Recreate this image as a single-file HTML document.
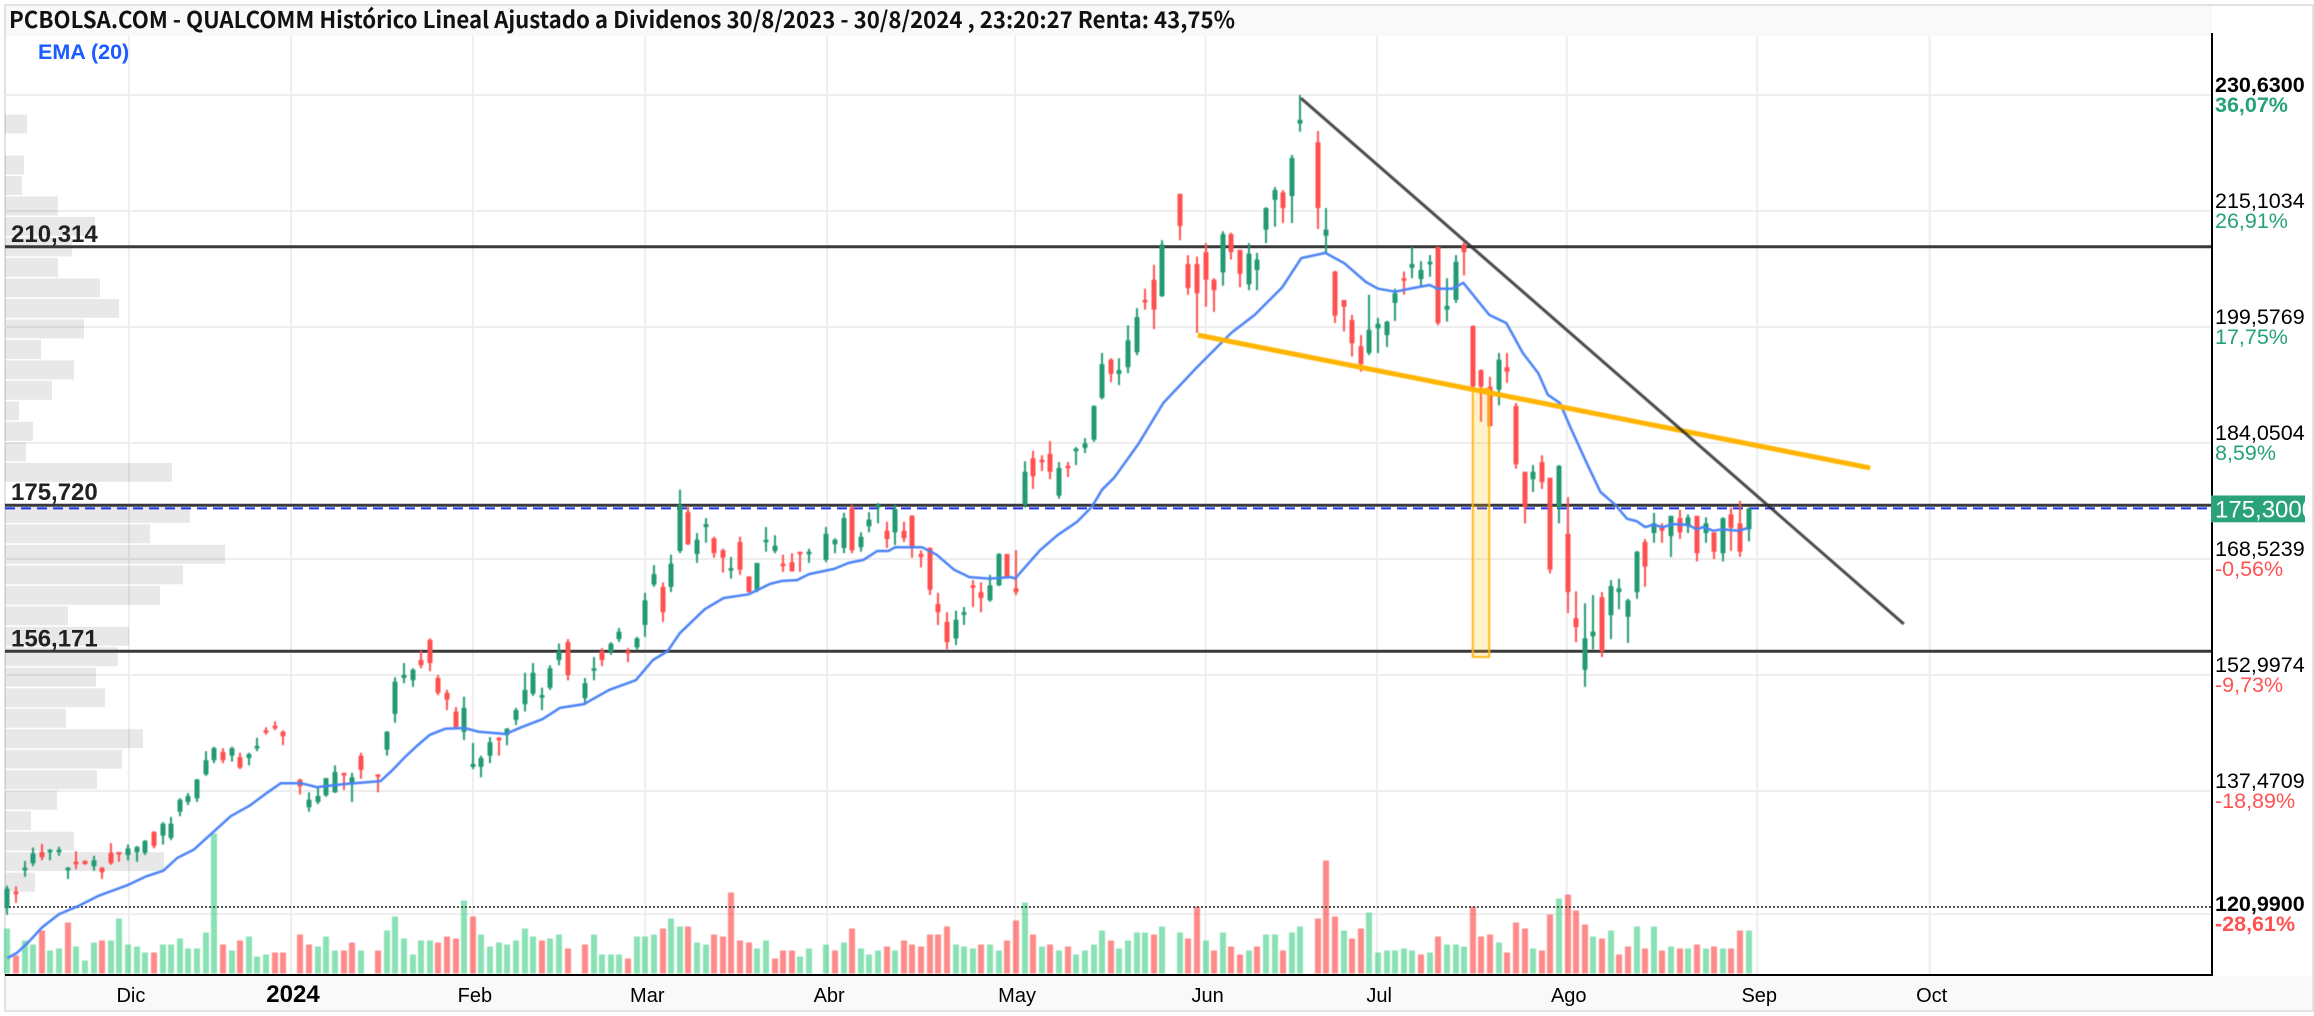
<!DOCTYPE html>
<html lang="es">
<head>
<meta charset="utf-8">
<title>PCBOLSA.COM - QUALCOMM</title>
<style>
html,body{margin:0;padding:0;background:#fff;width:2314px;height:1016px;overflow:hidden}
svg{display:block}
text{font-family:"Liberation Sans",sans-serif}
#candles,#overlays,#volume{filter:blur(0.5px)}
</style>
</head>
<body>
<svg id="chart" xmlns="http://www.w3.org/2000/svg" width="2314" height="1016" viewBox="0 0 2314 1016">
  <rect x="5" y="5" width="2308" height="1006" fill="#fff" stroke="#e2e2e2" stroke-width="2"/>
  <rect x="6" y="6" width="2206" height="30" fill="#f9f9f9"/>
  <rect x="6" y="976" width="2306" height="34" fill="#f9f9f9"/>
  <g id="grid"></g>
  <g id="profile"></g>
  <g id="volume"></g>
  <g id="levels"></g>
  <g id="candles"></g>
  <g id="overlays"></g>
  <g id="axes"></g>
  <text x="9" y="28" font-size="23" font-weight="700" fill="#111" textLength="1226" lengthAdjust="spacingAndGlyphs" style="font-family:'Noto Sans CJK JP','Liberation Sans',sans-serif">PCBOLSA.COM - QUALCOMM Histórico Lineal Ajustado a Dividenos 30/8/2023 - 30/8/2024 , 23:20:27 Renta: 43,75%</text>
  <text x="38" y="59" font-size="21.5" font-weight="700" fill="#1a5cff">EMA (20)</text>
</svg>
<script>
// ---- candles (USD), one slot per weekday, null = market closed ----
const highs = [
124.8,124.7,128.1,129.9,130.4,129.7,130.0,127.3,129.4,128.2,
128.8,127.3,130.5,129.3,130.3,130.1,130.9,132.1,133.3,134.0,
136.5,137.2,139.1,142.8,143.4,143.2,143.4,142.6,142.6,144.6,
146.0,146.8,145.6,null,139.1,137.3,138.0,139.2,140.9,139.9,
139.9,142.6,null,139.7,145.5,152.7,154.6,153.9,156.3,157.9,
153.0,151.0,148.7,150.1,143.9,142.2,144.7,144.7,145.9,148.6,
153.3,154.6,151.3,154.3,157.2,157.8,null,152.6,155.4,156.6,
157.4,159.3,156.6,158.1,164.0,167.7,165.4,169.1,177.8,175.6,
172.0,174.0,171.5,169.9,168.8,171.5,166.2,168.0,172.8,171.7,
169.1,169.3,169.5,169.9,null,172.8,171.3,174.7,175.8,172.1,
174.8,176.0,173.5,175.8,173.5,174.4,169.7,170.1,164.0,161.4,
161.6,162.1,165.7,165.4,166.4,169.3,169.2,169.7,181.6,183.0,
182.4,184.3,181.5,181.5,183.5,184.7,189.1,196.1,195.4,195.4,
199.8,202.1,204.7,207.9,211.2,null,217.4,209.2,209.0,210.8,
206.1,212.4,212.2,209.9,210.8,209.5,215.6,218.3,217.9,222.6,
230.63,null,225.8,215.5,207.1,203.2,201.2,198.5,203.9,200.8,
200.4,204.7,207.0,210.3,208.4,209.2,210.3,206.1,209.2,210.9,
199.8,193.9,192.9,196.1,196.1,189.4,180.2,181.1,182.4,179.4,
181.1,176.8,164.2,162.6,163.7,164.1,165.7,165.9,163.2,169.6,
171.2,174.7,173.3,174.3,175.1,174.5,174.3,174.1,172.1,174.1,
175.4,176.3,175.4];
const lows = [
120.9,122.5,126.0,127.4,128.2,128.2,128.8,125.7,127.0,127.6,
126.8,125.7,127.6,128.0,128.2,128.0,128.9,129.8,130.3,130.9,
134.1,135.6,136.0,139.5,141.2,141.2,141.4,140.4,140.9,142.8,
145.0,145.6,143.6,null,137.0,134.7,135.7,136.7,137.2,137.6,
136.0,139.1,null,137.3,142.2,146.6,151.9,151.4,153.9,153.5,
150.3,148.3,145.8,144.3,140.4,139.3,141.2,142.2,143.6,146.3,
148.1,150.2,148.3,151.0,154.3,152.3,null,149.1,152.3,154.2,
155.7,157.4,154.7,156.3,158.1,164.8,160.1,164.1,169.3,170.4,
168.0,170.7,168.7,166.7,165.9,166.4,164.0,164.1,169.5,169.3,
166.8,166.8,166.8,168.0,null,168.1,169.3,169.3,169.3,169.5,
172.1,173.3,170.0,170.4,170.8,168.7,167.4,163.7,159.7,156.4,
157.0,159.7,162.1,161.4,162.8,164.9,166.1,163.7,175.4,177.9,
180.3,179.2,176.6,179.5,181.1,182.7,184.2,189.9,192.2,191.8,
193.4,195.8,201.9,199.3,203.6,null,211.2,203.9,198.8,202.3,
201.6,205.1,208.6,204.9,204.5,204.5,210.8,213.0,213.5,213.5,
225.7,null,212.7,209.5,200.1,199.0,195.6,193.6,195.8,196.1,
196.9,200.4,203.9,206.1,204.9,206.3,199.8,200.3,202.8,206.5,
191.2,186.9,186.3,189.1,192.1,180.6,173.3,177.5,177.9,166.6,
173.3,161.3,157.4,151.4,156.4,155.4,157.8,161.8,157.3,163.2,
164.8,170.7,170.7,168.8,171.2,172.0,168.2,170.7,168.5,168.2,
169.6,168.8,170.9];
const opens = [
121.8,124.0,126.9,127.8,129.3,129.3,129.3,126.9,128.0,128.1,
127.4,127.2,129.2,129.3,128.9,129.3,129.2,132.0,131.5,131.2,
134.7,136.0,136.5,139.7,141.6,142.7,142.2,142.0,141.9,143.2,
145.6,146.2,145.4,null,139.0,135.3,136.0,136.9,137.3,139.9,
138.5,142.2,null,139.7,143.0,147.8,152.6,152.3,155.0,157.7,
152.6,150.6,148.1,145.4,140.7,140.7,142.2,144.6,145.0,147.0,
149.1,150.5,150.0,151.3,155.0,157.4,null,149.9,153.7,156.2,
156.1,157.8,156.2,156.7,159.7,165.1,164.8,164.8,169.6,174.8,
169.2,172.8,171.3,169.7,167.2,170.8,166.2,164.4,170.8,169.6,
167.9,168.1,169.5,169.2,null,168.4,170.5,170.0,175.4,170.1,
172.9,175.4,172.3,172.1,172.3,174.3,169.2,170.0,162.5,160.1,
157.9,161.2,165.0,164.1,163.0,165.0,169.2,164.6,175.8,182.0,
181.8,182.6,177.0,181.0,183.0,183.4,184.5,190.1,195.2,193.3,
194.2,196.2,203.2,205.9,203.7,null,217.4,208.0,208.0,209.6,
205.9,206.9,212.0,209.9,205.3,207.2,212.6,216.6,217.6,217.1,
226.8,null,224.3,211.8,207.0,203.2,200.5,197.0,196.1,199.4,
198.5,202.8,206.1,207.5,206.0,208.0,210.3,201.9,203.2,210.6,
199.7,193.8,191.6,191.2,194.2,189.0,180.2,179.2,181.5,179.4,
175.5,171.9,160.6,153.7,158.2,163.4,161.0,164.1,160.8,164.1,
170.8,172.0,172.8,171.6,174.0,173.0,174.3,172.0,172.1,169.3,
174.5,173.3,172.5];
const closes = [
124.4,123.7,127.2,129.1,128.6,129.6,129.6,127.2,127.7,127.7,
128.2,126.6,127.8,129.1,129.8,130.0,130.8,130.1,133.1,133.1,
136.3,136.8,139.0,141.6,143.2,141.6,143.2,140.6,142.4,143.5,
145.5,146.0,144.8,null,138.1,136.3,136.8,139.2,140.0,139.6,
139.3,140.3,null,139.5,145.4,152.1,153.0,153.7,154.3,154.6,
150.6,149.7,146.0,148.6,141.1,141.9,144.0,144.4,145.8,148.3,
151.0,153.3,150.3,153.9,156.2,153.0,null,151.9,153.9,155.0,
157.2,158.8,155.9,157.9,163.0,166.5,161.4,167.9,175.8,170.5,
171.1,173.2,169.3,168.7,167.3,167.1,164.1,168.0,171.1,170.3,
167.6,166.9,169.3,169.5,null,171.9,171.1,174.0,169.7,171.5,
173.8,175.8,171.2,175.2,171.3,170.1,168.8,164.4,161.4,157.4,
160.4,161.4,164.8,163.3,165.0,169.2,166.1,164.1,180.2,179.6,
181.5,180.2,180.7,180.7,183.3,184.0,189.0,194.6,193.3,193.8,
197.8,200.9,202.9,201.9,210.6,null,213.1,204.8,204.1,205.9,
204.5,212.0,209.6,206.7,209.4,208.6,215.5,217.9,215.5,222.2,
227.3,null,215.5,212.6,201.1,202.3,197.4,194.6,199.2,200.0,
200.3,204.1,205.9,208.0,207.2,208.3,200.1,202.4,208.3,209.6,
191.6,191.6,186.3,195.2,193.6,181.2,175.5,180.2,178.8,167.1,
181.0,164.1,159.4,157.9,158.8,156.2,164.9,164.6,163.0,169.5,
167.5,173.3,172.3,174.3,172.1,174.1,169.3,173.3,169.5,174.0,
172.7,169.5,175.3];
// ---- volume (millions) and up/down flag ----
const volumes = [
4.5,1.8,3.3,2.9,4.3,2.3,2.5,5.1,2.7,1.3,
3.1,3.3,3.3,5.5,2.9,2.7,2.1,2.1,2.9,2.9,
3.5,2.5,2.5,4.1,14.0,2.9,2.3,3.3,3.7,1.7,
1.9,2.1,2.1,null,3.9,2.9,2.7,3.7,2.3,2.3,
3.1,2.3,null,2.3,4.3,5.7,3.5,1.9,3.3,3.3,
3.1,3.7,3.5,7.3,5.7,3.9,2.7,3.1,2.9,3.3,
4.5,3.7,3.3,3.5,3.9,2.5,null,2.9,3.9,1.9,
1.9,1.9,1.5,3.7,3.7,3.9,4.5,5.5,4.7,4.7,
3.1,2.9,3.9,3.7,8.1,3.3,3.1,2.5,3.3,1.5,
2.3,2.3,1.7,2.5,null,2.9,2.3,3.1,4.5,2.5,
1.9,2.3,2.7,2.3,3.3,2.9,2.7,3.9,3.9,4.7,
2.9,2.7,2.5,2.9,2.9,2.3,3.3,5.3,7.1,3.9,
2.7,2.9,2.3,2.7,1.9,2.3,2.9,4.3,3.3,2.5,
3.3,4.1,4.1,3.9,4.7,null,4.1,3.5,6.7,3.3,
2.3,4.1,2.7,1.9,2.3,2.7,3.9,3.9,2.3,4.1,
4.7,null,5.5,11.3,5.7,4.3,3.5,4.5,6.1,2.1,
2.3,2.3,2.5,2.3,1.9,2.1,3.7,2.9,2.9,2.7,
6.7,3.7,3.9,3.1,2.1,5.1,4.5,2.5,2.3,5.9,
7.5,7.9,6.3,4.9,3.7,3.5,4.3,1.9,2.7,4.7,
2.5,4.7,2.3,2.7,2.5,2.5,2.9,2.5,2.7,2.5,
2.5,4.3,4.3];
const volumeUp = [
1,0,1,1,0,1,1,0,1,1,
1,0,1,1,1,1,1,0,1,1,
1,1,1,1,1,0,1,0,1,1,
1,0,0,null,0,0,1,1,1,0,
0,1,null,0,1,1,1,1,1,1,
0,0,0,1,0,1,1,1,1,1,
1,1,0,1,1,0,null,0,1,1,
1,1,0,1,1,1,0,1,1,0,
1,1,0,0,0,0,0,1,1,0,
0,0,1,1,null,1,0,1,0,1,
1,1,0,1,0,0,0,0,0,0,
1,1,1,0,1,1,0,0,1,0,
1,0,1,0,1,1,1,1,0,1,
1,1,1,0,1,null,1,0,0,1,
0,1,0,0,1,0,1,1,0,1,
1,null,0,0,0,1,0,0,1,1,
1,1,1,1,0,1,0,1,1,1,
0,0,0,1,0,0,0,1,0,0,
1,0,0,0,1,0,1,0,0,1,
0,1,0,1,0,1,0,1,0,1,
0,0,1];
// ---- EMA(20): bar position and value ----
const emaBars = [0,1.1,2.5,4.0,6.0,8.3,10.5,14.0,16.0,18.1,19.7,21.6,24.2,25.9,28.1,30.2,31.7,34.1,35.9,39.0,43.3,44.7,46.1,47.5,49.0,50.8,53.0,54.7,57.8,59.6,62.1,64.1,66.9,69.8,72.9,74.9,76.6,78.0,80.9,83.1,86.0,88.5,89.9,91.6,93.0,95.9,97.6,99.3,100.9,102.2,103.0,106.1,107.8,109.8,111.6,113.9,116.4,116.9,119.8,121.8,124.1,125.8,127.0,128.4,131.2,134.1,138.0,142.0,144.7,147.9,150.1,152.9,155.1,157.6,159.0,161.0,163.1,165.0,165.9,167.6,168.9,171.9,173.9,175.8,177.6,178.7,180.1,181.3,183.2,184.8,186.5,187.9,189.0,190.0,190.9,192.1,193.2,194.9,196.0,196.7,197.9,198.9,200.8,202.0];
const emaValues = [115.1,115.8,117.3,119.2,121.0,122.1,123.4,124.9,126.0,126.8,128.5,129.6,132.3,134.1,135.5,137.3,138.5,138.5,138.0,138.4,138.8,140.3,142.0,143.5,145.0,145.8,145.9,145.4,145.1,146.0,147.1,148.6,149.1,151.0,152.3,155.0,156.2,158.6,161.8,163.3,163.8,165.2,165.6,165.7,166.5,167.2,168.0,168.4,169.6,169.6,170.1,170.1,169.1,167.1,166.1,165.9,166.1,165.9,169.7,171.7,173.5,175.5,177.8,179.4,183.9,189.4,194.2,198.8,201.2,204.9,208.8,209.5,208.1,205.6,204.7,204.3,204.8,205.2,204.7,204.7,205.5,201.2,200.1,196.1,193.4,190.5,189.4,186.2,181.4,177.5,175.8,173.9,173.6,172.8,173.1,172.8,173.2,173.1,172.5,172.8,172.3,172.5,172.3,172.7];
// ---- axis labels ----
const priceTicks = [230.63,215.1034,199.5769,184.0504,168.5239,152.9974,137.4709,120.99];
const priceLabels = ["230,6300","215,1034","199,5769","184,0504","168,5239","152,9974","137,4709","120,9900"];
const pctLabels = ["36,07%","26,91%","17,75%","8,59%","-0,56%","-9,73%","-18,89%","-28,61%"];
const monthBars = [14.1,32.9,54.0,74.0,95.1,116.9,139.0,158.9,180.9,203.0,223.0];
const monthLabels = ["Dic","2024","Feb","Mar","Abr","May","Jun","Jul","Ago","Sep","Oct"];
// ---- horizontal levels and drawn annotations ----
const levelPrices = [210.314,175.72,156.171];
const levelLabels = ["210,314","175,720","156,171"];
const lastPrice = 175.3;
const lastPriceLabel = "175,3000";
const lowGuide = 121.95;
const blackTrendBars = [150.07,220.0];
const blackTrendPrices = [230.2,159.83];
const orangeTrendBars = [138.1,216.1];
const orangeTrendPrices = [198.5,180.71];
const boxBars = [170.0,171.9];
const boxPrices = [191.28,155.41];
// ---- volume profile: width per price bin ----
const profileValues = [22,0,19,17,53,90,67,53,95,114,79,36,69,47,14,28,21,167,0,185,145,220,178,155,63,124,113,91,100,61,138,117,92,52,26,69,159,30];
const profileTopPrice = 226.75;
const profileBinSize = 2.7426;

// ---- axis functions ----
const plotLeft = 5, plotRight = 2212, plotTop = 36, plotBottom = 975;
function xOf(bar){ return 7.4 + 8.62 * bar; }
function yOf(price){ return 95 + (230.63 - price) * 7.4712; }
function volHeight(v){ return v * 10; }
const NS = 'http://www.w3.org/2000/svg';
function mk(tag, parent, attrs){
  const e = document.createElementNS(NS, tag);
  for (const k in attrs) e.setAttribute(k, attrs[k]);
  document.getElementById(parent).appendChild(e);
  return e;
}

// grid
priceTicks.forEach(function(p){
  const el = mk('line','grid',{x1:plotLeft,x2:plotRight,y1:yOf(p),y2:yOf(p),stroke:'#eeeeee','stroke-width':2});
  
  
});
monthBars.forEach(function(b){
  const el = mk('line','grid',{x1:xOf(b),x2:xOf(b),y1:plotTop,y2:plotBottom,stroke:'#eeeeee','stroke-width':2});
  
  
});

// volume profile
profileValues.forEach(function(v,i){
  if(!v) return;
  const c = profileTopPrice - i*profileBinSize;
  const el = mk('rect','profile',{x:plotLeft,y:yOf(c)-9.5,width:v,height:19,fill:'rgba(0,0,0,0.09)'});
  
  
});

// volume bars
volumes.forEach(function(v,i){
  if(v===null) return;
  const h = volHeight(v);
  const el = mk('rect','volume',{x:Math.round(xOf(i))-3,y:973.5-h,width:6,height:h,fill:volumeUp[i]?'rgba(60,205,130,0.6)':'rgba(255,60,60,0.6)'});
  
  
});

// levels
levelPrices.forEach(function(p,i){
  const l = mk('line','levels',{x1:plotLeft,x2:plotRight,y1:yOf(p),y2:yOf(p),stroke:'#3a3a3a','stroke-width':3});
  
  
  const t = mk('text','levels',{x:11,y:yOf(p)-5,'font-size':24,'font-weight':700,fill:'#222'});
  t.textContent = levelLabels[i];
  
  
});
const guide = mk('line','levels',{x1:plotLeft,x2:plotRight,y1:yOf(lowGuide),y2:yOf(lowGuide),stroke:'#555','stroke-width':2,'stroke-dasharray':'2 2'});


const lastLine = mk('line','levels',{x1:plotLeft,x2:plotRight,y1:yOf(lastPrice),y2:yOf(lastPrice),stroke:'#2233ee','stroke-width':2,'stroke-dasharray':'10 6'});



// candles
closes.forEach(function(c,i){
  if(c===null) return;
  const o = opens[i], up = c >= o, col = up ? '#229a72' : '#ff5050';
  const cx = Math.round(xOf(i));
  const w = mk('line','candles',{x1:cx,x2:cx,y1:yOf(highs[i]),y2:yOf(lows[i]),stroke:col,'stroke-width':2});
  
  
  const t = yOf(Math.max(o,c)), h = Math.max(2.5, yOf(Math.min(o,c)) - t);
  const b = mk('rect','candles',{x:cx-2.5,y:t,width:5,height:h,fill:col});
  
  
});

// orange box
const box = mk('rect','overlays',{x:xOf(boxBars[0]),y:yOf(boxPrices[0]),width:xOf(boxBars[1])-xOf(boxBars[0]),height:yOf(boxPrices[1])-yOf(boxPrices[0]),fill:'rgba(255,190,0,0.2)',stroke:'#ffb917','stroke-width':2});



// EMA
const emaPts = emaBars.map(function(b,i){ return xOf(b).toFixed(1)+','+yOf(emaValues[i]).toFixed(1); }).join(' ');
const ema = mk('polyline','overlays',{points:emaPts,fill:'none',stroke:'#4a82f6','stroke-width':2.5,'stroke-linejoin':'round'});



// trend lines
const orange = mk('line','overlays',{x1:xOf(orangeTrendBars[0]),y1:yOf(orangeTrendPrices[0]),x2:xOf(orangeTrendBars[1]),y2:yOf(orangeTrendPrices[1]),stroke:'#ffb400','stroke-width':5});


const black = mk('line','overlays',{x1:xOf(blackTrendBars[0]),y1:yOf(blackTrendPrices[0]),x2:xOf(blackTrendBars[1]),y2:yOf(blackTrendPrices[1]),stroke:'#2a2a2a','stroke-width':3,opacity:0.85});



// axes
const xAxis = mk('line','axes',{x1:plotLeft,x2:plotRight+1,y1:plotBottom,y2:plotBottom,stroke:'#000','stroke-width':2});


const yAxis = mk('line','axes',{x1:plotRight,x2:plotRight,y1:33,y2:plotBottom+1,stroke:'#000','stroke-width':2});



priceTicks.forEach(function(p,i){
  const edge = (i===0 || i===priceTicks.length-1);
  const a = mk('text','axes',{x:2215,y:yOf(p)-3,'font-size':21.5,'font-weight':edge?700:400,fill:'#000'});
  a.textContent = priceLabels[i];
  
  
  const neg = pctLabels[i].charAt(0)==='-';
  const b = mk('text','axes',{x:2215,y:yOf(p)+17,'font-size':21.5,'font-weight':edge?700:400,fill:neg?'#ff5252':'#26a27a'});
  b.textContent = pctLabels[i];
  
  
});

const tag = mk('svg','axes',{x:2211,y:yOf(lastPrice)-13,width:94,height:27});


const tagBg = document.createElementNS(NS,'rect');
tagBg.setAttribute('width', 94);
tagBg.setAttribute('height', 27);
tagBg.setAttribute('fill', '#2aa27a');


tag.appendChild(tagBg);
const tagTx = document.createElementNS(NS,'text');
tagTx.setAttribute('x', 4);
tagTx.setAttribute('y', 22);
tagTx.setAttribute('font-size', 24);
tagTx.setAttribute('fill', '#fff');


tagTx.textContent = lastPriceLabel;
tag.appendChild(tagTx);

monthLabels.forEach(function(m,i){
  const bold = m==='2024';
  const t = mk('text','axes',{x:xOf(monthBars[i])+2,y:1002,'text-anchor':'middle','font-size':bold?24:20,'font-weight':bold?700:400,fill:'#000'});
  t.textContent = m;
  
  
});
</script>
</body>
</html>
